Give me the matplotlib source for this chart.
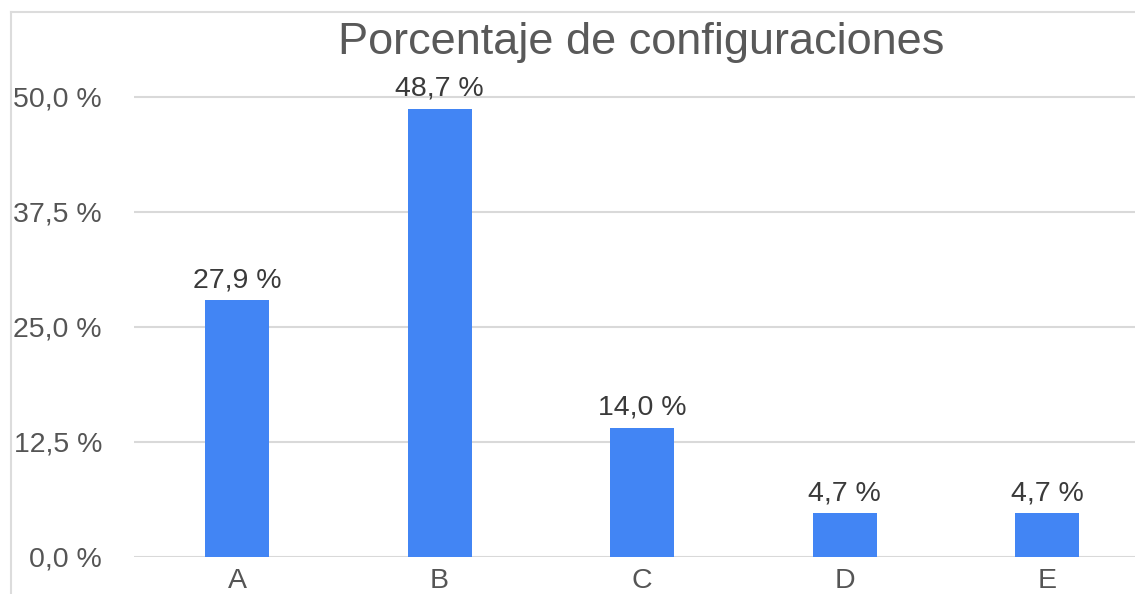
import matplotlib
matplotlib.use("Agg")
import matplotlib.pyplot as plt
from matplotlib.lines import Line2D

# Data
categories = ["A", "B", "C", "D", "E"]
values = [27.9, 48.7, 14.0, 4.7, 4.7]
y_ticks = [0.0, 12.5, 25.0, 37.5, 50.0]
y_tick_labels = ["0,0 %", "12,5 %", "25,0 %", "37,5 %", "50,0 %"]

plt.rcParams["font.family"] = ["Liberation Sans", "DejaVu Sans"]

fig = plt.figure(figsize=(11.35, 5.94), dpi=100)
ax = fig.add_axes([0.118, 0.0628, 0.882, 0.852])

x = list(range(len(categories)))
bars = ax.bar(x, values, width=0.316, color="#4285F4", zorder=3)

# labels on top of bars, comma decimal
ax.bar_label(bars, labels=[f"{v:.1f} %".replace(".", ",") for v in values],
             padding=5, fontsize=20.5, color="#3a3a3a")

ax.set_xlim(-0.509, 4.434)
ax.set_ylim(0, 55)
ax.set_xticks(x)
ax.set_xticklabels(categories)
ax.set_yticks(y_ticks)
ax.set_yticklabels(y_tick_labels)
ax.tick_params(axis="y", length=0, pad=23, labelsize=20.5, labelcolor="#555555")
ax.tick_params(axis="x", length=0, pad=8, labelsize=20.5, labelcolor="#555555")

ax.grid(axis="y", color="#D9D9D9", linewidth=1.5, zorder=0)
for s in ax.spines.values():
    s.set_visible(False)

# title sits just above the plot area
fig.text(641 / 1135, 1 - 54 / 594, "Porcentaje de configuraciones", fontsize=32.5,
         color="#595959", ha="center", va="baseline")

# light frame of the original screenshot
fig.add_artist(Line2D([11 / 1135, 1], [1 - 12 / 594, 1 - 12 / 594], color="#DCDCDC", lw=1.5))
fig.add_artist(Line2D([11 / 1135, 11 / 1135], [0, 1 - 12 / 594], color="#DCDCDC", lw=1.5))

fig.savefig("out.png", dpi=100)
